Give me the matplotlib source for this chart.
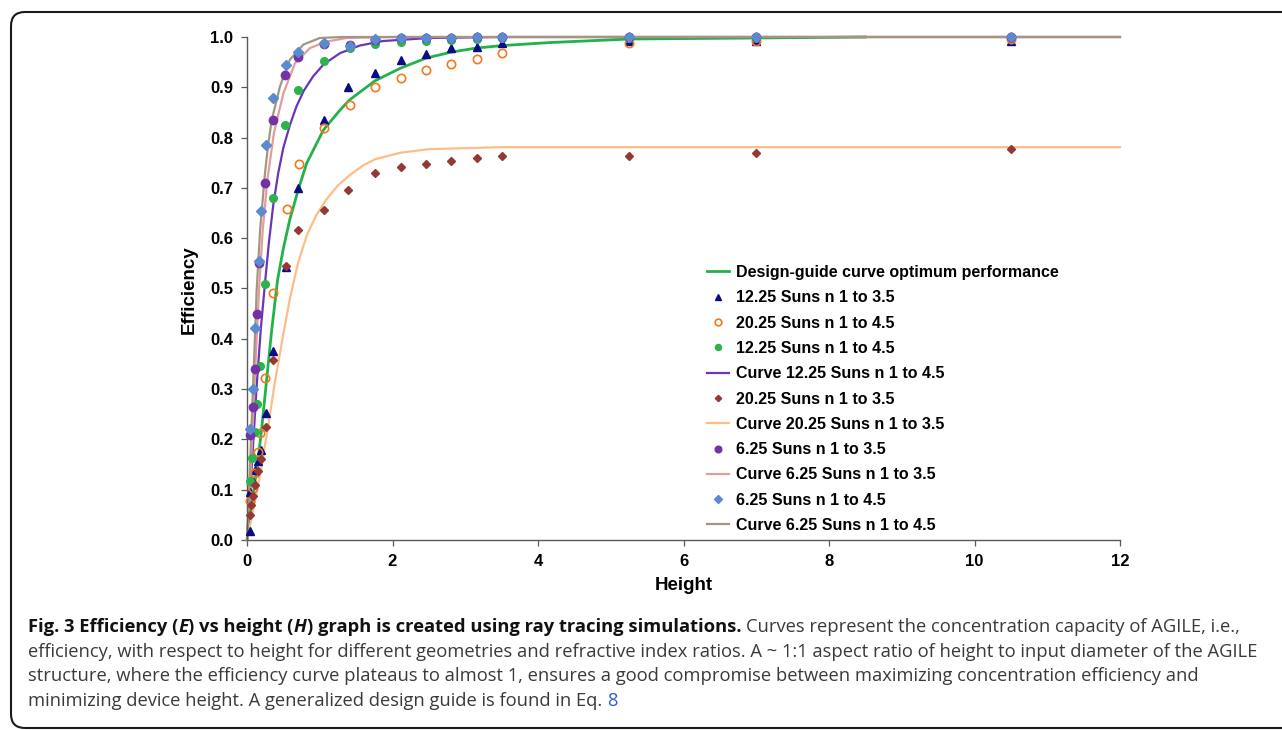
import matplotlib
matplotlib.use("Agg")
import matplotlib.pyplot as plt
from matplotlib.patches import FancyBboxPatch
from matplotlib.transforms import IdentityTransform
from matplotlib.ticker import FormatStrFormatter, MultipleLocator

# ---- values ----
design_x = [0, 0.087, 0.14, 0.2, 0.27, 0.34, 0.42, 0.5, 0.59, 0.71, 0.82, 1.05, 1.28, 1.41,
            1.76, 2.11, 2.46, 2.81, 3.15, 3.51, 4.17, 5.26, 7.0, 8.5]
design_y = [0, 0.093, 0.146, 0.219, 0.319, 0.418, 0.517, 0.58, 0.638, 0.699, 0.749, 0.815, 0.855, 0.875,
            0.913, 0.938, 0.958, 0.970, 0.978, 0.983, 0.989, 0.996, 0.998, 1.0]

s1225_35_x = [0.041, 0.041, 0.087, 0.11, 0.147, 0.19, 0.257, 0.362, 0.536, 0.705, 1.06, 1.39,
              1.76, 2.11, 2.46, 2.81, 3.16, 3.51, 5.25, 7.0, 10.5]
s1225_35_y = [0.017, 0.095, 0.118, 0.139, 0.158, 0.179, 0.252, 0.376, 0.543, 0.699, 0.835, 0.900,
              0.929, 0.955, 0.967, 0.978, 0.980, 0.988, 0.993, 0.993, 0.993]

s2025_45_x = [0.041, 0.078, 0.114, 0.147, 0.179, 0.247, 0.353, 0.545, 0.71, 1.06, 1.42, 1.76,
              2.11, 2.46, 2.81, 3.16, 3.51, 5.25, 7.0, 10.5]
s2025_45_y = [0.077, 0.103, 0.134, 0.175, 0.212, 0.322, 0.491, 0.659, 0.747, 0.819, 0.865, 0.900,
              0.918, 0.934, 0.947, 0.956, 0.969, 0.989, 0.993, 0.997]

s1225_45_x = [0.041, 0.073, 0.106, 0.142, 0.179, 0.247, 0.353, 0.527, 0.697, 1.06, 1.41, 1.76,
              2.11, 2.46, 2.81, 3.16, 3.51, 5.25, 7.0, 10.5]
s1225_45_y = [0.117, 0.164, 0.214, 0.270, 0.345, 0.508, 0.680, 0.825, 0.895, 0.953, 0.978, 0.987,
              0.990, 0.993, 0.995, 0.997, 0.998, 0.998, 0.999, 1.0]

c1225_45_x = [0, 0.04, 0.08, 0.13, 0.19, 0.247, 0.3, 0.36, 0.43, 0.5, 0.59, 0.68, 0.78, 0.91,
              1.056, 1.28, 1.55, 1.87, 2.5, 3.5, 12]
c1225_45_y = [0, 0.09, 0.18, 0.30, 0.42, 0.51, 0.59, 0.665, 0.73, 0.78, 0.825, 0.862, 0.893, 0.922,
              0.946, 0.968, 0.983, 0.992, 0.998, 1.0, 1.0]

s2025_35_x = [0.041, 0.055, 0.078, 0.11, 0.147, 0.19, 0.257, 0.362, 0.536, 0.705, 1.06, 1.39,
              1.76, 2.11, 2.46, 2.81, 3.16, 3.51, 5.25, 7.0, 10.5]
s2025_35_y = [0.049, 0.069, 0.088, 0.110, 0.137, 0.161, 0.224, 0.357, 0.544, 0.616, 0.656, 0.695,
              0.729, 0.742, 0.748, 0.754, 0.760, 0.764, 0.764, 0.770, 0.777]

c2025_35_x = [0, 0.1, 0.2, 0.29, 0.385, 0.5, 0.59, 0.7, 0.82, 0.95, 1.08, 1.25, 1.41, 1.6, 1.76,
              2.11, 2.5, 3.0, 3.5, 12]
c2025_35_y = [0, 0.07, 0.146, 0.226, 0.315, 0.41, 0.48, 0.55, 0.605, 0.645, 0.675, 0.705, 0.725,
              0.745, 0.757, 0.770, 0.777, 0.779, 0.781, 0.781]

s625_35_x = [0.041, 0.078, 0.106, 0.142, 0.165, 0.247, 0.353, 0.527, 0.697, 1.06, 1.41, 1.76,
             2.11, 2.46, 2.81, 3.16, 3.51, 5.25, 7.0, 10.5]
s625_35_y = [0.209, 0.264, 0.340, 0.449, 0.550, 0.710, 0.834, 0.924, 0.961, 0.986, 0.985, 0.995,
             0.998, 0.999, 0.999, 1.0, 1.0, 1.0, 1.0, 1.0]

c625_35_x = [0, 0.04, 0.08, 0.12, 0.165, 0.216, 0.28, 0.37, 0.5, 0.66, 0.866, 1.095, 1.37, 2.0, 12]
c625_35_y = [0, 0.10, 0.23, 0.36, 0.497, 0.616, 0.716, 0.809, 0.888, 0.948, 0.978, 0.991, 0.998, 1.0, 1.0]

s625_45_x = [0.041, 0.078, 0.11, 0.165, 0.19, 0.257, 0.36, 0.536, 0.705, 1.06, 1.41, 1.76,
             2.11, 2.46, 2.81, 3.16, 3.51, 5.25, 7.0, 10.5]
s625_45_y = [0.221, 0.301, 0.422, 0.554, 0.655, 0.785, 0.878, 0.944, 0.971, 0.988, 0.982, 0.997,
             0.998, 0.999, 0.999, 1.0, 1.0, 1.0, 1.0, 1.0]

c625_45_x = [0, 0.03, 0.06, 0.09, 0.133, 0.18, 0.247, 0.29, 0.34, 0.454, 0.59, 0.775, 1.0, 1.3, 12]
c625_45_y = [0, 0.10, 0.22, 0.33, 0.497, 0.616, 0.729, 0.785, 0.835, 0.902, 0.955, 0.985, 0.998, 1.0, 1.0]

x_ticks = [0, 2, 4, 6, 8, 10, 12]

W, H = 1282, 730
fig = plt.figure(figsize=(W / 100, H / 100), dpi=100)
ax = fig.add_axes([247 / W, 1 - 540 / H, 873 / W, 503 / H])

chart_font = "Liberation Sans"

ax.plot(design_x, design_y, color="#22b24c", lw=2.0, zorder=2, clip_on=False,
        label="Design-guide curve optimum performance")
ax.plot(s1225_35_x, s1225_35_y, ls="none", marker="^", ms=6, color="#0b0b86", zorder=4,
        clip_on=False, label="12.25 Suns n 1 to 3.5")
ax.plot(s2025_45_x, s2025_45_y, ls="none", marker="o", ms=6, mfc="none", mec="#f07a1e", mew=1.2,
        zorder=4, clip_on=False, label="20.25 Suns n 1 to 4.5")
ax.plot(s1225_45_x, s1225_45_y, ls="none", marker="o", ms=5.5, color="#2cb34b", zorder=4,
        clip_on=False, label="12.25 Suns n 1 to 4.5")
ax.plot(c1225_45_x, c1225_45_y, color="#6a36b8", lw=1.6, zorder=2, clip_on=False,
        label="Curve 12.25 Suns n 1 to 4.5")
ax.plot(s2025_35_x, s2025_35_y, ls="none", marker="D", ms=4, color="#953735", zorder=4,
        clip_on=False, label="20.25 Suns n 1 to 3.5")
ax.plot(c2025_35_x, c2025_35_y, color="#fdbd86", lw=1.6, zorder=2, clip_on=False,
        label="Curve 20.25 Suns n 1 to 3.5")
ax.plot(s625_35_x, s625_35_y, ls="none", marker="o", ms=6, color="#7532a6", zorder=4,
        clip_on=False, label="6.25 Suns n 1 to 3.5")
ax.plot(c625_35_x, c625_35_y, color="#e39c9e", lw=1.6, zorder=2, clip_on=False,
        label="Curve 6.25 Suns n 1 to 3.5")
ax.plot(s625_45_x, s625_45_y, ls="none", marker="D", ms=5, color="#5a8ad0", zorder=4,
        clip_on=False, label="6.25 Suns n 1 to 4.5")
ax.plot(c625_45_x, c625_45_y, color="#a39783", lw=1.6, zorder=2, clip_on=False,
        label="Curve 6.25 Suns n 1 to 4.5")

ax.set_xlim(0, 12)
ax.set_ylim(0, 1.0)
ax.set_xticks(x_ticks)
ax.yaxis.set_major_locator(MultipleLocator(0.1))
ax.yaxis.set_major_formatter(FormatStrFormatter("%.1f"))
for s in ["top", "right"]:
    ax.spines[s].set_visible(False)
for s in ["left", "bottom"]:
    ax.spines[s].set_color("#5a5a5a")
    ax.spines[s].set_linewidth(1.0)
ax.tick_params(direction="out", length=4, width=0.9, color="#5a5a5a", pad=6)
for lab in ax.get_xticklabels() + ax.get_yticklabels():
    lab.set_fontfamily(chart_font)
    lab.set_fontweight("bold")
    lab.set_fontsize(12)

ax.set_xlabel("Height", fontfamily=chart_font, fontweight="bold", fontsize=13.5)
ax.set_ylabel("Efficiency", fontfamily=chart_font, fontweight="bold", fontsize=13.5)
ax.xaxis.set_label_coords(0.5006, -0.074)
ax.yaxis.set_label_coords(-0.056, 0.497)

ax.legend(loc="upper left", bbox_to_anchor=(707 / W, 1 - 265 / H), bbox_transform=fig.transFigure,
          frameon=False, prop=dict(family=chart_font, weight="bold", size=11.5),
          handlelength=1.35, handletextpad=0.45, labelspacing=0.645, borderaxespad=0,
          borderpad=0, numpoints=1, markerscale=0.8)

# rounded frame round the figure
fig.add_artist(FancyBboxPatch((11, 2), 1290, 716, boxstyle="round,pad=0,rounding_size=14",
                              transform=IdentityTransform(), fill=False, ec="#1a1a1a", lw=1.5))

# caption
cap_font = "Open Sans"
cap_size = 13.2
renderer = fig.canvas.get_renderer()


def text_width(s, **kw):
    t = fig.text(0, 0, s, transform=IdentityTransform(), fontfamily=cap_font, fontsize=cap_size, **kw)
    w = t.get_window_extent(renderer).width
    t.remove()
    return w


def put_line(x, y, pieces):
    for s, kw in pieces:
        if s == " ":
            x += text_width("a a") - text_width("aa")
            continue
        t = fig.text(x, H - y, s, transform=IdentityTransform(), fontfamily=cap_font,
                     fontsize=cap_size, va="baseline", **kw)
        x += t.get_window_extent(renderer).width


bold = dict(fontweight="bold", color="#111111")
boldit = dict(fontweight="bold", fontstyle="italic", color="#111111")
reg = dict(color="#3a3a3a")

put_line(28, 632, [("Fig. 3 Efficiency (", bold), ("E", boldit), (") vs height (", bold),
                   ("H", boldit), (") graph is created using ray tracing simulations.", bold),
                   (" ", {}), ("Curves represent the concentration capacity of AGILE, i.e.,", reg)])
put_line(28, 657, [("efficiency, with respect to height for different geometries and refractive "
                    "index ratios. A ~ 1:1 aspect ratio of height to input diameter of the AGILE", reg)])
put_line(28, 681, [("structure, where the efficiency curve plateaus to almost 1, ensures a good "
                    "compromise between maximizing concentration efficiency and", reg)])
put_line(28, 706, [("minimizing device height. A generalized design guide is found in Eq.", reg),
                   (" ", {}), ("8", dict(color="#2f5fd0"))])

fig.savefig("out.png", dpi=100)
